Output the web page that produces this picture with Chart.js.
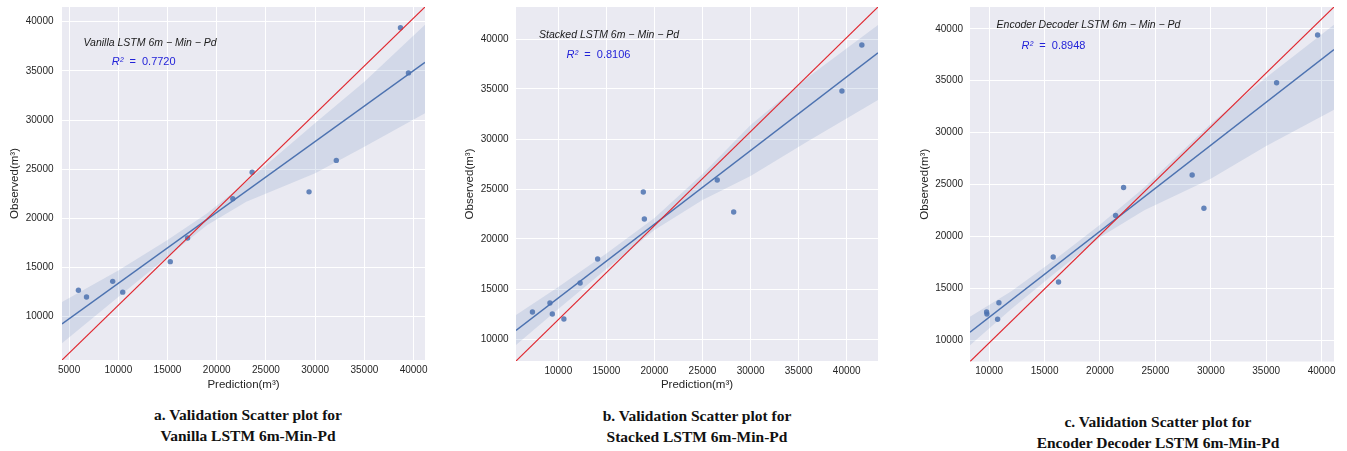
<!DOCTYPE html>
<html>
<head>
<meta charset="utf-8">
<title>Validation Scatter plots</title>
<script src="https://cdn.jsdelivr.net/npm/chart.js@4.4.1/dist/chart.umd.min.js"></script>
<style>
  html, body { margin: 0; padding: 0; background: #fff; }
  body { width: 1347px; height: 451px; position: relative; overflow: hidden; }
  canvas { position: absolute; top: 0; }
  .cap {
    position: absolute; transform: translateX(-50%);
    font: bold 15.5px "Liberation Serif", "Times New Roman", serif;
    color: #111; text-align: center; line-height: 21px; white-space: nowrap;
  }
</style>
</head>
<body>
<canvas id="chartA" width="440" height="400" style="left:0"></canvas>
<canvas id="chartB" width="440" height="400" style="left:450px"></canvas>
<canvas id="chartC" width="447" height="400" style="left:900px"></canvas>

<div class="cap" style="left:248px;top:404px">a. Validation Scatter plot for<br>Vanilla LSTM 6m-Min-Pd</div>
<div class="cap" style="left:697px;top:405px">b. Validation Scatter plot for<br>Stacked LSTM 6m-Min-Pd</div>
<div class="cap" style="left:1158px;top:411px">c. Validation Scatter plot for<br>Encoder Decoder LSTM 6m-Min-Pd</div>

<script>
// ---- data ----
// observed volumes, same order in every panel
const observed = [12700, 12000, 13600, 12500, 15600, 18000, 22000, 24700, 22700, 25900, 39400, 34800];
const predVanilla = [5950, 6770, 9430, 10450, 15280, 17040, 21630, 23600, 29380, 32150, 38670, 39480];
const predStacked = [7310, 10580, 9130, 9380, 12270, 14090, 18950, 18840, 28240, 26530, 41570, 39500];
const predEncDec  = [9770, 10760, 10880, 9800, 16260, 15780, 21410, 22130, 29380, 28320, 39640, 35940];

// axis limits [min, max]
const xLimA = [4280, 41160], yLimA = [5600, 41500];
const xLimB = [5600, 43250], yLimB = [7800, 43200];
const xLimC = [8270, 41120], yLimC = [7930, 42100];

// tick labels
const yTicks  = [10000, 15000, 20000, 25000, 30000, 35000, 40000];
const xTicksA = [5000, 10000, 15000, 20000, 25000, 30000, 35000, 40000];
const xTicksB = [10000, 15000, 20000, 25000, 30000, 35000, 40000];
const xTicksC = [10000, 15000, 20000, 25000, 30000, 35000, 40000];

// fitted line end points (x, y)
const fitA = [[4280, 9270], [41160, 35870]];
const fitB = [[5600, 10860], [43250, 38620]];
const fitC = [[8270, 10750], [41120, 37990]];

// 95% band edges
const bandXA = [4280, 10000, 15000, 19000, 23000, 30000, 35000, 41160];
const bandHiA = [11500, 14700, 17800, 20500, 23700, 29700, 33900, 39700];
const bandLoA = [7300, 12000, 16100, 19300, 21700, 24600, 27300, 30700];
const bandXB = [5600, 10000, 15000, 20000, 25000, 30000, 36000, 43250];
const bandHiB = [12400, 15200, 18550, 22100, 26500, 31400, 36200, 41400];
const bandLoB = [9400, 13000, 17000, 20900, 23900, 26300, 29800, 33900];
const bandXC = [8270, 12000, 16000, 20000, 24000, 30000, 35000, 41120];
const bandHiC = [12250, 14700, 17800, 21100, 24700, 30850, 35300, 40400];
const bandLoC = [9500, 13000, 16500, 19900, 22500, 25550, 28700, 32200];

// in-plot labels: text, R² value, positions in data units
const labelA = ["Vanilla LSTM 6m \u2212 Min \u2212 Pd", "0.7720", [6460, 37870], [9330, 35940]];
const labelB = ["Stacked LSTM 6m \u2212 Min \u2212 Pd", "0.8106", [8000, 40430], [10860, 38430]];
const labelC = ["Encoder Decoder LSTM 6m \u2212 Min \u2212 Pd", "0.8948", [10670, 40340], [12920, 38310]];

(function () {
  const BLUE = "#4C72B0";
  const TXT = "#262626";
  const pts = (xs, ys) => xs.map((x, i) => ({ x, y: ys[i] }));

  // seaborn darkgrid background
  const bgPlugin = {
    id: "bg",
    beforeDraw(chart) {
      const { ctx, chartArea: a } = chart;
      ctx.save();
      ctx.fillStyle = "#EAEAF2";
      ctx.fillRect(a.left, a.top, a.right - a.left, a.bottom - a.top);
      ctx.restore();
    }
  };

  // model name + R² text
  function notesPlugin(lab) {
    return {
      id: "notes",
      afterDatasetsDraw(chart) {
        const { ctx, scales: { x, y } } = chart;
        ctx.save();
        ctx.textBaseline = "middle";
        ctx.fillStyle = "#1a1a1a";
        ctx.font = "italic 10.5px 'Liberation Sans', Arial, sans-serif";
        ctx.fillText(lab[0], x.getPixelForValue(lab[2][0]), y.getPixelForValue(lab[2][1]));

        let px = x.getPixelForValue(lab[3][0]);
        const py = y.getPixelForValue(lab[3][1]);
        ctx.fillStyle = "#2323d8";
        ctx.font = "italic 11px 'Liberation Sans', Arial, sans-serif";
        ctx.fillText("R\u00B2", px, py);
        px += ctx.measureText("R\u00B2").width;
        ctx.font = "11px 'Liberation Sans', Arial, sans-serif";
        ctx.fillText("  =  " + lab[1], px, py);
        ctx.restore();
      }
    };
  }

  // keep label overhang from pushing the plot area around
  const noPad = (s) => { s.paddingTop = 0; s.paddingBottom = 0; s.paddingLeft = 0; s.paddingRight = 0; };

  function makeChart(id, p) {
    const diag = [{ x: p.xLim[0], y: p.yLim[0] }, { x: p.xLim[1], y: p.yLim[1] }];
    const tickFont = { family: "'Liberation Sans', Arial, sans-serif", size: 10 };
    const titleFont = { family: "'Liberation Sans', Arial, sans-serif", size: 11.5 };

    return new Chart(document.getElementById(id), {
      type: "scatter",
      data: {
        datasets: [
          { data: diag, showLine: true, borderColor: "#e0262e", borderWidth: 1.2, pointRadius: 0, order: 0 },
          { data: p.fit.map(([x, y]) => ({ x, y })), showLine: true, borderColor: BLUE, borderWidth: 1.4, pointRadius: 0, order: 1 },
          { data: pts(p.bandX, p.bandHi), showLine: true, borderWidth: 0, pointRadius: 0, fill: false, order: 2 },
          { data: pts(p.bandX, p.bandLo), showLine: true, borderWidth: 0, pointRadius: 0, fill: "-1",
            backgroundColor: "rgba(76,114,176,0.15)", order: 3 },
          { data: pts(p.pred, observed), pointRadius: 2.7, pointBorderWidth: 0,
            pointBackgroundColor: "rgba(76,114,176,0.85)", order: 4 }
        ]
      },
      options: {
        responsive: false,
        animation: false,
        events: [],
        layout: { padding: { top: 7, right: p.padRight, left: 0, bottom: 0 } },
        plugins: { legend: { display: false }, tooltip: { enabled: false } },
        scales: {
          x: {
            type: "linear", min: p.xLim[0], max: p.xLim[1],
            afterBuildTicks: (s) => { s.ticks = p.xTicks.map((v) => ({ value: v })); },
            afterFit: (s) => { s.height = p.xAxisH; noPad(s); },
            grid: { color: "#fff", lineWidth: 1, drawTicks: false },
            border: { display: false },
            ticks: { padding: 4, color: TXT, font: tickFont, maxRotation: 0, autoSkip: false, callback: (v) => String(v) },
            title: { display: p.xTitle, text: "Prediction(m\u00B3)", color: TXT, font: titleFont, padding: { top: 0, bottom: 7.8 } }
          },
          y: {
            type: "linear", min: p.yLim[0], max: p.yLim[1],
            afterBuildTicks: (s) => { s.ticks = yTicks.map((v) => ({ value: v })); },
            afterFit: (s) => { s.width = p.yAxisW; noPad(s); },
            grid: { color: "#fff", lineWidth: 1, drawTicks: false },
            border: { display: false },
            ticks: { padding: p.yTickPad, color: TXT, font: tickFont, autoSkip: false, callback: (v) => String(v) },
            title: { display: true, text: "Observed(m\u00B3)", color: TXT, font: titleFont, padding: { top: p.yTitlePad, bottom: 0 } }
          }
        }
      },
      plugins: [bgPlugin, notesPlugin(p.label)]
    });
  }

  makeChart("chartA", {
    pred: predVanilla, xLim: xLimA, yLim: yLimA, xTicks: xTicksA, fit: fitA,
    bandX: bandXA, bandHi: bandHiA, bandLo: bandLoA, label: labelA,
    yAxisW: 62, padRight: 15, xAxisH: 40, xTitle: true, yTickPad: 8.5, yTitlePad: 8.4
  });
  makeChart("chartB", {
    pred: predStacked, xLim: xLimB, yLim: yLimB, xTicks: xTicksB, fit: fitB,
    bandX: bandXB, bandHi: bandHiB, bandLo: bandLoB, label: labelB,
    yAxisW: 66, padRight: 12, xAxisH: 39, xTitle: true, yTickPad: 7.5, yTitlePad: 13.4
  });
  makeChart("chartC", {
    pred: predEncDec, xLim: xLimC, yLim: yLimC, xTicks: xTicksC, fit: fitC,
    bandX: bandXC, bandHi: bandHiC, bandLo: bandLoC, label: labelC,
    yAxisW: 70, padRight: 13, xAxisH: 38.5, xTitle: false, yTickPad: 7, yTitlePad: 18.4
  });
})();
</script>
</body>
</html>
